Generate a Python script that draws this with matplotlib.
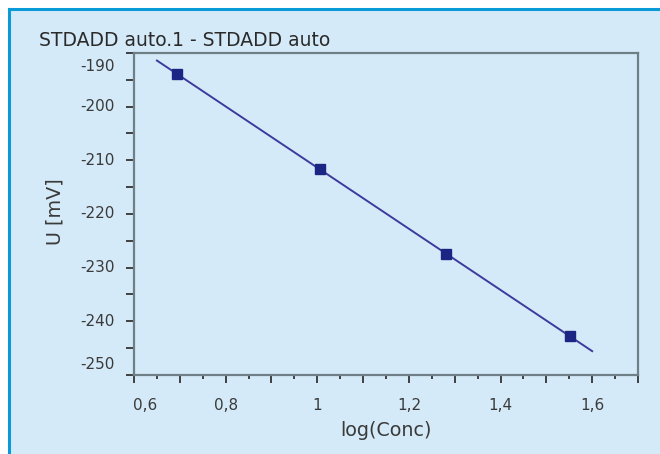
import numpy as np
import matplotlib
matplotlib.use("Agg")
import matplotlib.pyplot as plt
from matplotlib.transforms import ScaledTranslation, blended_transform_factory
from matplotlib.lines import Line2D
from matplotlib.patches import Rectangle

# ---- data ----
log_conc = [0.694, 1.006, 1.281, 1.552]
u_mv = [-193.9, -211.7, -227.4, -242.8]
fit_range = [0.65, 1.6]
title = "STDADD auto.1 - STDADD auto"
x_label = "log(Conc)"
y_label = "U [mV]"
y_ticks = [-190, -200, -210, -220, -230, -240, -250]
x_ticks = [0.6, 0.8, 1.0, 1.2, 1.4, 1.6]
x_tick_labels = ["0,6", "0,8", "1", "1,2", "1,4", "1,6"]

plt.rcParams['font.family'] = ['DejaVu Sans']

W, H = 660, 454
fig = plt.figure(figsize=(W / 100, H / 100), dpi=100)
fig.patch.set_facecolor("white")

panel_bg = "#d5eaf8"
border = "#0a9ad8"
fig.patches.append(Rectangle((9 / W, 0), 1, 1 - 9 / H, transform=fig.transFigure,
                             facecolor=panel_bg, edgecolor="none", zorder=-2))
fig.lines.append(Line2D([9 / W, 1], [1 - 9 / H, 1 - 9 / H], transform=fig.transFigure,
                        color=border, lw=2.2, zorder=-1))
fig.lines.append(Line2D([9 / W, 9 / W], [0, 1 - 9 / H], transform=fig.transFigure,
                        color=border, lw=2.2, zorder=-1))

left, right, top, bottom = 134, 638, 53, 375
ax = fig.add_axes([left / W, 1 - bottom / H, (right - left) / W, (bottom - top) / H])
ax.set_zorder(1)
ax.set_facecolor(panel_bg)

ax.set_xlim(0.6, 1.7)
ax.set_ylim(-250, -190)

spine_col = "#6f7f88"
for s in ax.spines.values():
    s.set_color(spine_col)
    s.set_linewidth(1.6)

# fitted line
coef = np.polyfit(log_conc, u_mv, 1)
xf = np.array(fit_range)
ax.plot(xf, np.polyval(coef, xf), color="#3c3c9c", lw=1.4, zorder=3)
ax.plot(log_conc, u_mv, ls="none", marker="s", ms=7.5, color="#1b2583",
        mec="#1b2583", zorder=4)

# ticks
ax.set_xticks(np.arange(0.6, 1.701, 0.1))
ax.set_xticks(np.arange(0.65, 1.7, 0.1), minor=True)
ax.set_yticks(np.arange(-250, -189, 10))
ax.set_yticks(np.arange(-245, -190, 10), minor=True)
ax.tick_params(axis="x", which="major", length=6, width=1.3, color="#333333",
               labelbottom=False)
ax.tick_params(axis="x", which="minor", length=3, width=1.3, color="#333333")
ax.tick_params(axis="y", which="both", length=6, width=1.3, color="#333333",
               labelleft=False)

lab_col = "#3a3a3a"
fs = 11
# y tick labels (end labels kept inside the frame as in the original)
ytr = blended_transform_factory(ax.transAxes, ax.transData)
for v in y_ticks:
    dy = 0
    if v == max(y_ticks):
        dy = -14
    elif v == min(y_ticks):
        dy = 10
    tr = ytr + ScaledTranslation(-19 / 100, dy / 100, fig.dpi_scale_trans)
    ax.text(0, v, str(v), transform=tr, ha="right", va="center",
            fontsize=fs, color=lab_col)

xtr = blended_transform_factory(ax.transData, ax.transAxes)
for v, t in zip(x_ticks, x_tick_labels):
    dx = 11 if v == min(x_ticks) else 0
    tr = xtr + ScaledTranslation(dx / 100, -30 / 100, fig.dpi_scale_trans)
    ax.text(v, 0, t, transform=tr, ha="center", va="center",
            fontsize=fs, color=lab_col)

fig.text(386 / W, 1 - 430 / H, x_label, ha="center", va="center",
         fontsize=13.8, color=lab_col)
fig.text(55 / W, 1 - 212 / H, y_label, ha="center", va="center", rotation=90,
         fontsize=13.8, color=lab_col)
fig.text(39 / W, 1 - 40 / H, title, ha="left", va="center",
         fontsize=13.5, color="#2a2a2a")

fig.savefig("out.png", dpi=100, facecolor="white")
